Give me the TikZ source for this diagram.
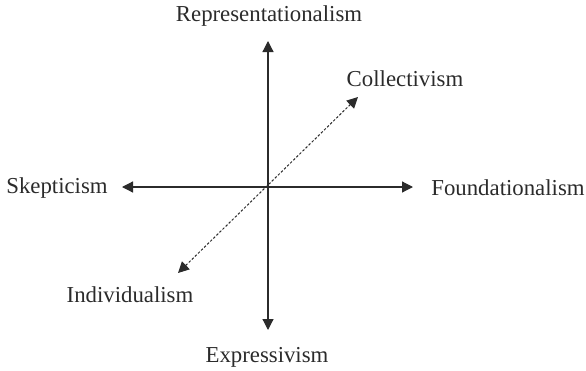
\documentclass[tikz,border=0pt]{standalone}
\usepackage{fontspec}
\setmainfont{Liberation Serif}
\usetikzlibrary{arrows.meta}
\definecolor{ink}{HTML}{2B2B2B}
\begin{document}
\begin{tikzpicture}[x=1pt,y=-1pt,
  lbl/.style={font=\fontsize{22.8}{26}\selectfont, text=ink, inner sep=0pt},
  axis/.style={draw=ink, line width=1.2pt, {Triangle[length=11pt,width=11pt]}-{Triangle[length=11pt,width=11pt]}},
  diag/.style={draw=ink, line width=1pt, dash pattern=on 2.5pt off 1.8pt, {Triangle[length=11pt,width=11pt]}-{Triangle[length=11pt,width=11pt]}}]
\useasboundingbox (0,0) rectangle (586,370);
\coordinate (top) at (268,41);
\coordinate (bot) at (268,330);
\coordinate (lft) at (122,187);
\coordinate (rgt) at (413,187);
\coordinate (dl) at (178,273);
\coordinate (ur) at (358,97);
\node[lbl] (rep) at (269,16) {Representationalism};
\node[lbl] (exp) at (267,357) {Expressivism};
\node[lbl] (ske) at (57,188) {Skepticism};
\node[lbl] (fou) at (508,188) {Foundationalism};
\node[lbl] (col) at (405,79) {Collectivism};
\node[lbl] (ind) at (130,295) {Individualism};
\draw[axis] (bot) -- (top);
\draw[axis] (lft) -- (rgt);
\draw[diag] (dl) -- (ur);
\end{tikzpicture}
\end{document}
